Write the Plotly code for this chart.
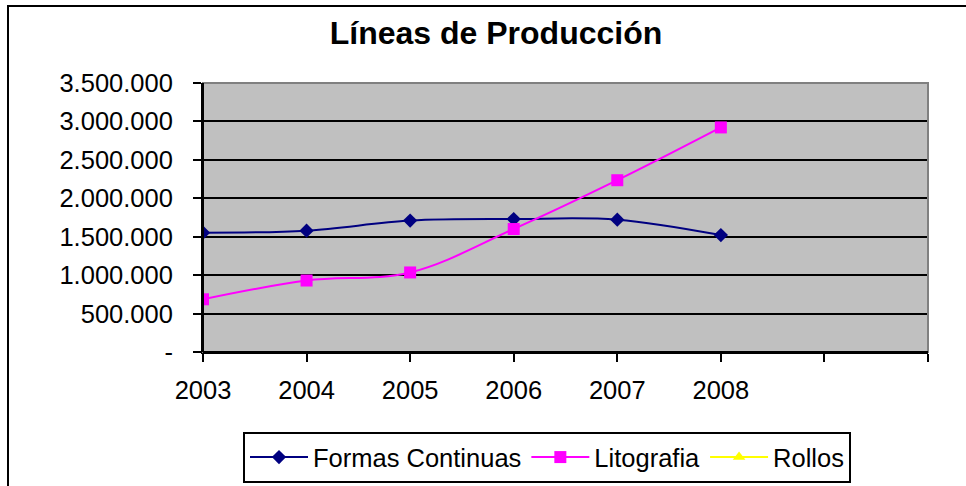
import plotly.graph_objects as go

years = [2003, 2004, 2005, 2006, 2007, 2008]
tick_years = [2003, 2004, 2005, 2006, 2007, 2008, 2009, 2010]
tick_labels = ["2003", "2004", "2005", "2006", "2007", "2008", "", ""]
formas = [1553000, 1579000, 1710000, 1730000, 1722000, 1521000]
litografia = [686000, 930000, 1035000, 1600000, 2235000, 2922000]
rollos = [None, None, None, None, None, None]
y_ticks = [0, 500000, 1000000, 1500000, 2000000, 2500000, 3000000, 3500000]
y_labels = ["-", "500.000", "1.000.000", "1.500.000", "2.000.000", "2.500.000", "3.000.000", "3.500.000"]

FONT = "Liberation Sans, Arial, sans-serif"
W, H = 966, 486
L, R, T, B = 203, 928, 83, 352
pw, ph = R - L, B - T

def px(x):
    return (x - L) / pw

def py(y):
    return (B - y) / ph

fig = go.Figure()
fig.add_trace(go.Scatter(
    x=years, y=formas, name="Formas Continuas", mode="lines+markers",
    line=dict(color="#000080", width=2, shape="spline", smoothing=1),
    marker=dict(symbol="diamond", size=11, color="#000080")))
fig.add_trace(go.Scatter(
    x=years, y=litografia, name="Litografia", mode="lines+markers",
    line=dict(color="#FF00FF", width=2, shape="spline", smoothing=1),
    marker=dict(symbol="square", size=12, color="#FF00FF")))
fig.add_trace(go.Scatter(
    x=years, y=rollos, name="Rollos", mode="lines+markers", showlegend=True,
    line=dict(color="#FFFF00", width=2),
    marker=dict(symbol="triangle-up", size=11, color="#FFFF00")))

fig.update_layout(
    width=W, height=H,
    margin=dict(l=L, r=W - R, t=T, b=H - B),
    paper_bgcolor="white", plot_bgcolor="#C0C0C0",
    font=dict(family=FONT, size=25, color="black"),
    title=dict(text="<b>Líneas de Producción</b>", font=dict(size=32, family=FONT),
               x=px(496), xref="paper", xanchor="center",
               y=1 - 33 / H, yref="container", yanchor="middle"),
    xaxis=dict(range=[2003, 2010], tickvals=tick_years, ticktext=tick_labels,
               showgrid=False, zeroline=False, showline=True, linecolor="black", linewidth=2,
               ticks="outside", ticklen=8, tickwidth=2, tickcolor="black",
               ticklabelstandoff=6, tickfont=dict(size=25.5)),
    yaxis=dict(range=[0, 3500000], tickvals=y_ticks, ticktext=y_labels,
               showgrid=True, gridcolor="black", gridwidth=2, zeroline=False,
               showline=True, linecolor="black", linewidth=2,
               ticks="outside", ticklen=8, tickwidth=2, tickcolor="black",
               ticklabelstandoff=15, tickfont=dict(size=25.5)),
    legend=dict(orientation="h", xref="container", yref="container",
                x=243 / W, xanchor="left", y=1 - 432 / H, yanchor="top",
                bordercolor="black", borderwidth=2, bgcolor="white",
                font=dict(size=25.5), itemsizing="trace", itemwidth=58),
    showlegend=True,
)

# plot-area border (grey, top and right)
fig.add_shape(type="rect", xref="paper", yref="paper", x0=0, x1=1, y0=0, y1=1,
              line=dict(color="#808080", width=2), layer="above")
# re-draw axis lines over the border
fig.add_shape(type="line", xref="paper", yref="paper", x0=0, x1=0, y0=0, y1=1,
              line=dict(color="black", width=2), layer="above")
fig.add_shape(type="line", xref="paper", yref="paper", x0=0, x1=1, y0=0, y1=0,
              line=dict(color="black", width=2), layer="above")
# chart-area border
fig.add_shape(type="rect", xref="paper", yref="paper",
              x0=px(8), x1=px(990), y0=py(500), y1=py(6),
              line=dict(color="black", width=2), layer="above")

fig.write_html("out.html", config={"displayModeBar": False},
               post_script="document.body.style.margin='0';document.body.style.overflow='hidden';")
